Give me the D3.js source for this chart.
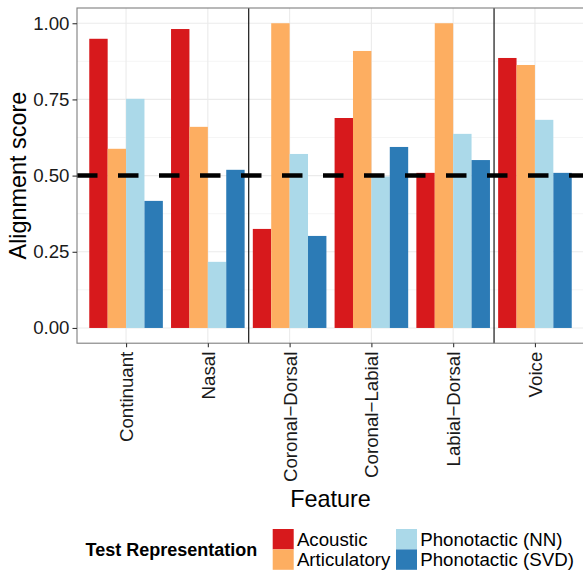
<!DOCTYPE html>
<html>
<head>
<meta charset="utf-8">
<script src="https://cdn.jsdelivr.net/npm/d3@7"></script>
<style>
  body { margin: 0; background: #fff; }
  svg { display: block; font-family: "Liberation Sans", Arial, Helvetica, sans-serif; }
</style>
</head>
<body>
<svg id="chart" width="583" height="570"></svg>
<script>
const categories = ["Continuant", "Nasal", "Coronal\u2212Dorsal", "Coronal\u2212Labial", "Labial\u2212Dorsal", "Voice"];
const series = ["Acoustic", "Articulatory", "Phonotactic (NN)", "Phonotactic (SVD)"];
const acoustic     = [0.949, 0.981, 0.325, 0.689, 0.509, 0.886];
const articulatory = [0.588, 0.660, 1.000, 0.909, 1.000, 0.863];
const phonoNN      = [0.752, 0.217, 0.571, 0.497, 0.637, 0.683];
const phonoSVD     = [0.417, 0.519, 0.302, 0.594, 0.551, 0.509];
const colors = ["#d7191c", "#fdae61", "#abd9e9", "#2c7bb6"];
const yTicks = [0, 0.25, 0.5, 0.75, 1.0];
const yMinorTicks = [0.125, 0.375, 0.625, 0.875];
const chance = 0.5;
const separatorsAfter = [1, 4]; // vertical lines after these category indices

const values = [acoustic, articulatory, phonoNN, phonoSVD];

const svg = d3.select("#chart");
const P = { left: 77, right: 584, top: 8, bottom: 343.2 };

const x = d3.scalePoint().domain(categories).range([P.left, P.right]).padding(0.6);
const step = x.step();
const xs = d3.scaleBand().domain(series).range([-0.45 * step, 0.45 * step]).padding(0);
const y = d3.scaleLinear().domain([-0.05, 1.05]).range([P.bottom, P.top]);

// panel background
svg.append("rect").attr("x", P.left).attr("y", P.top)
  .attr("width", P.right - P.left).attr("height", P.bottom - P.top).attr("fill", "#fff");

// minor grid
svg.append("g").selectAll("line").data(yMinorTicks).join("line")
  .attr("x1", P.left).attr("x2", P.right)
  .attr("y1", d => y(d)).attr("y2", d => y(d))
  .attr("stroke", "#f5f5f5").attr("stroke-width", 1);
// major grid
svg.append("g").selectAll("line").data(yTicks).join("line")
  .attr("x1", P.left).attr("x2", P.right)
  .attr("y1", d => y(d)).attr("y2", d => y(d))
  .attr("stroke", "#ebebeb").attr("stroke-width", 1.1);
svg.append("g").selectAll("line").data(categories).join("line")
  .attr("x1", d => x(d)).attr("x2", d => x(d))
  .attr("y1", P.top).attr("y2", P.bottom)
  .attr("stroke", "#ebebeb").attr("stroke-width", 1.1);

// bars
const barData = [];
categories.forEach((c, i) => series.forEach((s, j) => barData.push({ c, s, v: values[j][i], col: colors[j] })));
svg.append("g").selectAll("rect").data(barData).join("rect")
  .attr("x", d => x(d.c) + xs(d.s))
  .attr("width", xs.bandwidth())
  .attr("y", d => y(Math.max(0, d.v)))
  .attr("height", d => Math.abs(y(d.v) - y(0)))
  .attr("fill", d => d.col);

// vertical separators
svg.append("g").selectAll("line").data(separatorsAfter).join("line")
  .attr("x1", i => (x(categories[i]) + x(categories[i + 1])) / 2)
  .attr("x2", i => (x(categories[i]) + x(categories[i + 1])) / 2)
  .attr("y1", P.top).attr("y2", P.bottom)
  .attr("stroke", "#000").attr("stroke-width", 1.1);

// dashed chance line
svg.append("line")
  .attr("x1", P.left).attr("x2", P.right)
  .attr("y1", y(chance)).attr("y2", y(chance))
  .attr("stroke", "#000").attr("stroke-width", 4.5)
  .attr("stroke-dasharray", "20.5 20.5");

// panel border
svg.append("rect").attr("x", P.left).attr("y", P.top)
  .attr("width", P.right - P.left).attr("height", P.bottom - P.top)
  .attr("fill", "none").attr("stroke", "#7f7f7f").attr("stroke-width", 1.1);

// y axis
const yAxis = svg.append("g").attr("transform", `translate(${P.left},0)`)
  .call(d3.axisLeft(y).tickValues(yTicks).tickFormat(d3.format(".2f")).tickSize(4.5).tickPadding(3));
yAxis.select(".domain").remove();
yAxis.selectAll(".tick line").attr("stroke", "#333").attr("stroke-width", 1.1);
yAxis.selectAll(".tick text").attr("font-size", "18.7px").attr("fill", "#1a1a1a")
  .attr("font-family", "'Liberation Sans', Arial, sans-serif");

// x axis
const xAxis = svg.append("g").attr("transform", `translate(0,${P.bottom})`)
  .call(d3.axisBottom(x).tickSize(4).tickPadding(0));
xAxis.select(".domain").remove();
xAxis.selectAll(".tick line").attr("stroke", "#333").attr("stroke-width", 1.1);
xAxis.selectAll(".tick text")
  .attr("font-size", "18.7px").attr("fill", "#1a1a1a")
  .attr("font-family", "'Liberation Sans', Arial, sans-serif")
  .attr("transform", "translate(0,8.5) rotate(-90)")
  .attr("text-anchor", "end").attr("x", 0).attr("y", 0).attr("dy", "0.35em");

// axis titles
svg.append("text").attr("transform", `translate(26,${(P.top + P.bottom) / 2}) rotate(-90)`)
  .attr("text-anchor", "middle").attr("font-size", "23.4px").attr("fill", "#000")
  .text("Alignment score");
svg.append("text").attr("x", (P.left + P.right) / 2).attr("y", 506.5)
  .attr("text-anchor", "middle").attr("font-size", "23.4px").attr("fill", "#000")
  .text("Feature");

// legend
const lg = svg.append("g");
lg.append("text").attr("x", 85.5).attr("y", 555.5)
  .attr("font-size", "18px").attr("font-weight", "bold").attr("fill", "#000")
  .text("Test Representation");
const keyPos = [[272.7, 529], [272.7, 549.4], [396, 529], [396, 549.4]];
series.forEach((s, j) => {
  const [kx, ky] = keyPos[j];
  lg.append("rect").attr("x", kx).attr("y", ky).attr("width", 21).attr("height", 20.4)
    .attr("fill", colors[j]);
  lg.append("text").attr("x", kx + 24.2).attr("y", ky + 17)
    .attr("font-size", "18.7px").attr("fill", "#000").text(s);
});
</script>
</body>
</html>
